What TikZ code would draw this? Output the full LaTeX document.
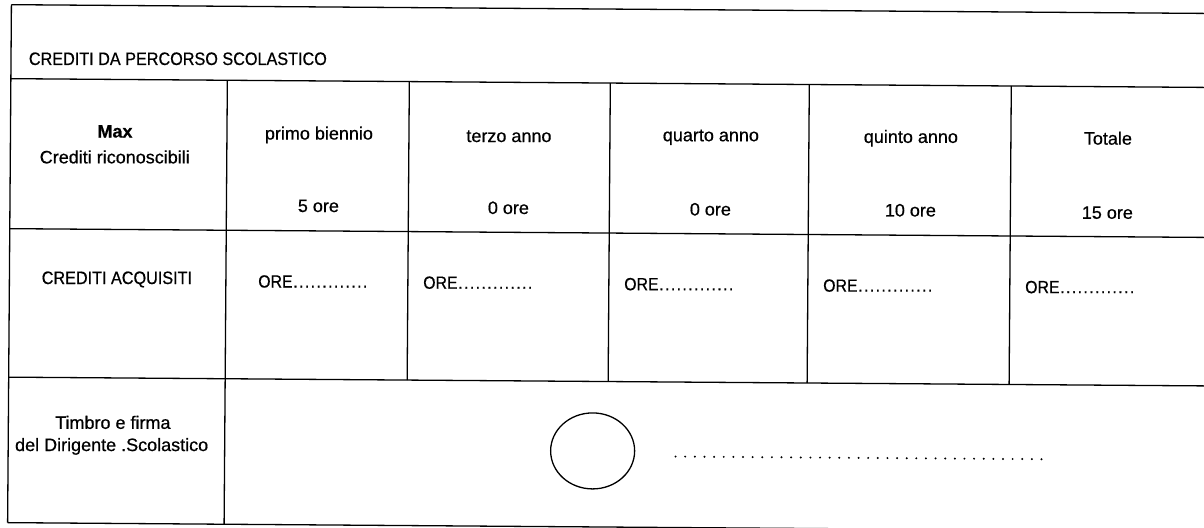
\documentclass[tikz,border=0pt]{standalone}
\usepackage{fontspec}
\setmainfont{Liberation Sans}[FakeBold=0.6]
\newfontfamily\capsfont{Liberation Sans}[FakeBold=0.6,FakeStretch=0.9]
\usetikzlibrary{shapes.geometric}
\newcommand\oredot{\makebox[2.9pt]{.}}
\newcommand\orefill{ORE\oredot\oredot\oredot\oredot\oredot\oredot\oredot\oredot\oredot\oredot\oredot\oredot\oredot}
\begin{document}
\begin{tikzpicture}[x=0.5pt,y=-0.5pt,
  gridline/.style={line width=0.65pt,black},
  lbl/.style={inner sep=0pt,font=\fontsize{9}{11}\selectfont,anchor=center},
  capslbl/.style={inner sep=0pt,font=\capsfont\fontsize{9}{11}\selectfont},
  orecell/.style={inner sep=0pt,font=\capsfont\fontsize{8.8}{10}\selectfont,anchor=west},
  stamp/.style={ellipse,draw,line width=0.65pt,minimum width=42pt,minimum height=38pt,inner sep=0pt},
  sigdot/.style={fill=black}]
\useasboundingbox (0,0) rectangle (1204,528);
\begin{scope}[rotate around={-0.42:(602,264)}]
% table grid
\draw[gridline] (9.5,9) -- (1215,9);
\draw[gridline] (9.5,83) -- (1215,83);
\draw[gridline] (9.5,233) -- (1215,233);
\draw[gridline] (9.5,381.5) -- (1215,381.5);
\draw[gridline] (9.5,527) -- (1215,527);
\draw[gridline] (9.5,9) -- (9.5,527);
\draw[gridline] (226,83) -- (226,527);
\foreach \cx in {408,609,808,1010} \draw[gridline] (\cx,83) -- (\cx,381.5);
% title
\node[capslbl,anchor=west] (title) at (27,63) {CREDITI DA PERCORSO SCOLASTICO};
% header row
\node[lbl,font=\bfseries\fontsize{9}{11}\selectfont] (maxa) at (114,135) {Max};
\node[lbl] (maxb) at (114,160.5) {Crediti riconoscibili};
\node[lbl] (h1a) at (318,137) {primo biennio};
\node[lbl] (h1b) at (318,208) {5 ore};
\node[lbl] (h2a) at (508,137) {terzo anno};
\node[lbl] (h2b) at (508,208.5) {0 ore};
\node[lbl] (h3a) at (710,136.5) {quarto anno};
\node[lbl] (h3b) at (710,208.5) {0 ore};
\node[lbl] (h4a) at (910,136) {quinto anno};
\node[lbl] (h4b) at (910,208) {10 ore};
\node[lbl] (h5a) at (1107,134.5) {Totale};
\node[lbl] (h5b) at (1107,209) {15 ore};
% acquired credits row
\node[capslbl] (acq) at (117,283) {CREDITI ACQUISITI};
\node[orecell] (o1) at (258,284) {\orefill};
\node[orecell] (o2) at (423,284) {\orefill};
\node[orecell] (o3) at (624,284) {\orefill};
\node[orecell] (o4) at (823,284) {\orefill};
\node[orecell] (o5) at (1025,284) {\orefill};
% signature row
\node[lbl] (sa) at (114,426) {Timbro e firma};
\node[lbl] (sb) at (113,450) {del Dirigente .Scolastico};
\node[stamp] (seal) at (594,451) {};
\foreach \i in {0,...,38} \fill[sigdot] (677+\i*9.63,456) circle (1.1);
\end{scope}
\end{tikzpicture}
\end{document}
